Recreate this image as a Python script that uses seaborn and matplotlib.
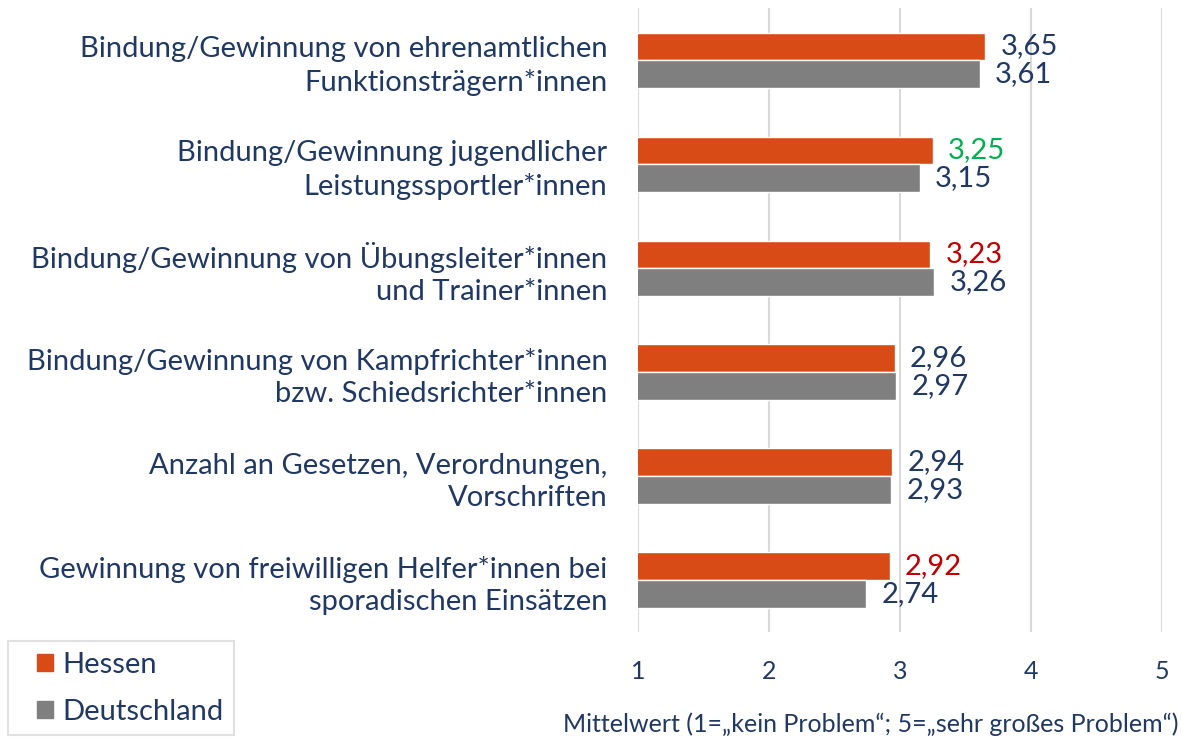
import seaborn as sns
import matplotlib.pyplot as plt
import pandas as pd
from matplotlib.legend_handler import HandlerPatch

sns.set_theme(style="white")
plt.rcParams['font.family'] = ['Lato', 'DejaVu Sans']

categories = [
    "Bindung/Gewinnung von ehrenamtlichen\nFunktionsträgern*innen",
    "Bindung/Gewinnung jugendlicher\nLeistungssportler*innen",
    "Bindung/Gewinnung von Übungsleiter*innen\nund Trainer*innen",
    "Bindung/Gewinnung von Kampfrichter*innen\nbzw. Schiedsrichter*innen",
    "Anzahl an Gesetzen, Verordnungen,\nVorschriften",
    "Gewinnung von freiwilligen Helfer*innen bei\nsporadischen Einsätzen",
]
hessen = [3.65, 3.25, 3.23, 2.96, 2.94, 2.92]
deutschland = [3.61, 3.15, 3.26, 2.97, 2.93, 2.74]
# colours of the Hessen value labels (highlighted ones)
hessen_label_colors = ["#1F3864", "#00B050", "#C00000", "#1F3864", "#1F3864", "#C00000"]

navy = "#1F3864"
df = pd.DataFrame({
    "Kategorie": categories * 2,
    "Wert": hessen + deutschland,
    "Region": ["Hessen"] * 6 + ["Deutschland"] * 6,
})

fig = plt.figure(figsize=(11.82, 7.4), dpi=100)
ax = fig.add_axes([0.5398, 0.146, 0.4433, 0.843])

sns.barplot(data=df, x="Wert", y="Kategorie", hue="Region", orient="h",
            palette={"Hessen": "#D84B16", "Deutschland": "#7F7F7F"},
            width=0.53, saturation=1, ax=ax, legend=False)

ax.set_xlim(1, 5)
ax.set_ylim(5.5, -0.5)
ax.set_xticks([1, 2, 3, 4, 5])
ax.xaxis.grid(True, color="#D9D9D9", linewidth=1.5)
ax.set_axisbelow(True)
for s in ax.spines.values():
    s.set_visible(False)
ax.tick_params(axis="y", length=0, pad=22, labelsize=21, labelcolor=navy)
ax.tick_params(axis="x", length=0, pad=20, labelsize=18, labelcolor=navy)
for t in ax.get_yticklabels():
    t.set_linespacing(1.3)
    t.set_horizontalalignment("right")
ax.set_ylabel("")
ax.set_xlabel("")

fmt = lambda v: f"{v:.2f}".replace(".", ",")
c_h, c_d = ax.containers[0], ax.containers[1]
lab_h = ax.bar_label(c_h, labels=[fmt(v) for v in hessen], padding=11,
                     fontsize=21, color=navy)
lab_d = ax.bar_label(c_d, labels=[fmt(v) for v in deutschland], padding=11,
                     fontsize=21, color=navy)
for t, c in zip(lab_h, hessen_label_colors):
    t.set_color(c)

fig.text(0.997, 0.021, "Mittelwert (1=„kein Problem“; 5=„sehr großes Problem“)",
         ha="right", va="center", fontsize=18, color=navy)


# square marker sitting at the right end of the handle box
def square(legend, orig_handle, xdescent, ydescent, width, height, fontsize):
    s = fontsize * 0.58
    return plt.Rectangle((width - s - xdescent, (height - s) / 2 - ydescent), s, s)


handles = [plt.Rectangle((0, 0), 1, 1, color="#D84B16"),
           plt.Rectangle((0, 0), 1, 1, color="#7F7F7F")]
leg = fig.legend(handles, ["Hessen", "Deutschland"], loc="lower left",
                 bbox_to_anchor=(0.007, 0.007), fontsize=21, frameon=True,
                 fancybox=False, edgecolor="#D9D9D9", handlelength=1.2,
                 handleheight=0.6, handletextpad=0.3, labelspacing=0.72,
                 borderpad=0.35, borderaxespad=0,
                 handler_map={plt.Rectangle: HandlerPatch(patch_func=square)})
leg.get_frame().set_linewidth(1.5)
for t in leg.get_texts():
    t.set_color(navy)

fig.savefig("out.png", dpi=100)
